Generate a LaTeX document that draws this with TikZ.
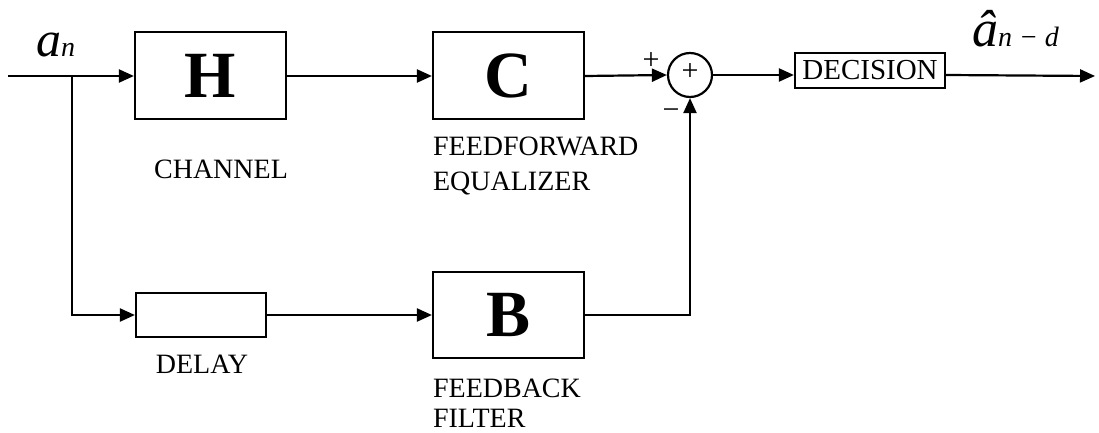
\documentclass[tikz,border=0pt]{standalone}
\usepackage{fontspec}
\setmainfont{Liberation Serif}
\usetikzlibrary{arrows.meta}
\begin{document}
\begin{tikzpicture}[x=1pt,y=-1pt,
  line width=2.2pt,
  conn/.style={-{Triangle[length=15pt,width=13pt]}},
  blk/.style={draw,line width=2.2pt,minimum width=151pt,minimum height=87pt,inner sep=0pt,font=\fontsize{66}{66}\selectfont\bfseries},
  smallbox/.style={draw,line width=2.2pt,inner sep=0pt},
  lbl/.style={font=\fontsize{28}{28}\selectfont,inner sep=0pt},
  sgn/.style={font=\fontsize{30}{30}\selectfont,inner sep=0pt}]
\useasboundingbox (0,0) rectangle (1099,433);
% blocks
\node[blk] (H) at (210.5,75.5) {H};
\node[blk] (C) at (508.5,75.5) {C};
\node[blk,minimum height=86pt] (B) at (508.5,315) {B};
\node[smallbox,minimum width=130pt,minimum height=44pt] (D) at (201,315) {};
\node[smallbox,minimum width=150pt,minimum height=35pt,font=\fontsize{29}{29}\selectfont] (dec) at (870,70.5) {DECISION};
\node[draw,circle,line width=2.2pt,minimum size=44pt,inner sep=0pt] (sum) at (690,75) {};
\node[sgn] at (690,72) {+};
% coordinates
\coordinate (in) at (8,76);
\coordinate (br) at (72,76);
\coordinate (out) at (1095,76);
% connectors
\draw[conn] (in) -- (H.west |- in);
\draw[conn] (H.east |- in) -- (C.west |- in);
\draw[conn] (C.east |- in) -- (sum.west);
\draw[conn] (sum.east) -- (dec.west |- sum.east);
\draw[conn] (dec.east |- sum.east) -- (out);
\draw[conn] (br) |- (D.west);
\draw[conn] (D.east) -- (B.west);
\draw[conn] (B.east) -| (sum.south);
% signs
\node[sgn] at (651,61) {+};
\node[sgn] at (671,114) {−};
% labels
\node[anchor=base west,inner sep=0pt] (an) at (35,57) {{\fontsize{50}{50}\selectfont\itshape a}{\fontsize{28}{28}\selectfont\itshape n}};
\node[anchor=base west,inner sep=0pt] (ahat) at (971,47) {{\fontsize{52}{52}\selectfont\itshape \^{a}}{\fontsize{28}{28}\selectfont\itshape n~−~d}};
\node[lbl,anchor=base] (chl) at (221,178) {CHANNEL};
\node[lbl,anchor=base west] (ff1) at (432,155) {FEEDFORWARD};
\node[lbl,anchor=base west] (ff2) at (432,190) {EQUALIZER};
\node[lbl,anchor=base] (dl) at (202,373) {DELAY};
\node[lbl,anchor=base west] (fb1) at (432,397) {FEEDBACK};
\node[lbl,anchor=base west] (fb2) at (432,427) {FILTER};
\end{tikzpicture}
\end{document}
